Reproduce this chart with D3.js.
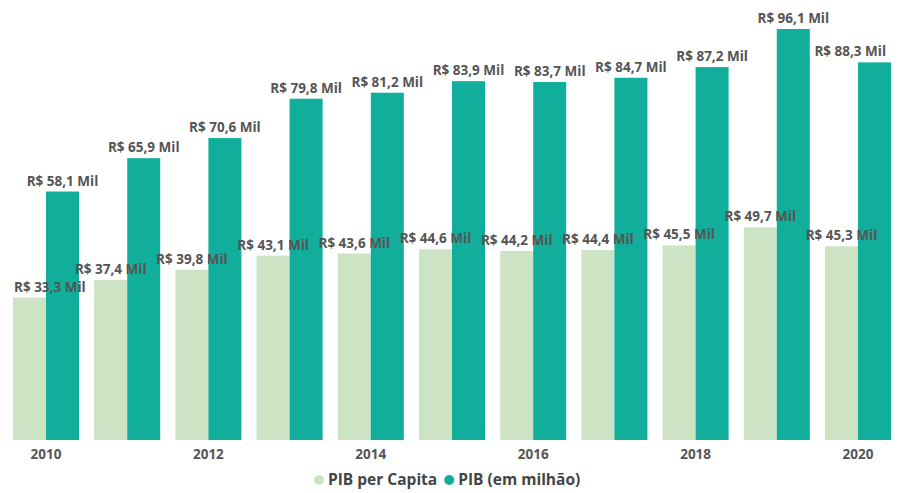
<!DOCTYPE html>
<html>
<head>
<meta charset="utf-8">
<script src="https://cdn.jsdelivr.net/npm/d3@7"></script>
<style>
  body { margin: 0; background: #fff; }
  svg text { font-family: "Open Sans", "Noto Sans", sans-serif; }
  .axis .domain { display: none; }
  .axis text { font-size: 13.5px; font-weight: 700; fill: #555; }
</style>
</head>
<body>
<div id="chart"></div>
<script>
// chart data
const years = ['2010','2011','2012','2013','2014','2015','2016','2017','2018','2019','2020'];
const pibPerCapita = [33.3, 37.4, 39.8, 43.1, 43.6, 44.6, 44.2, 44.4, 45.5, 49.7, 45.3];
const pibMilhao = [58.1, 65.9, 70.6, 79.8, 81.2, 83.9, 83.7, 84.7, 87.2, 96.1, 88.3];
const seriesNames = ['PIB per Capita', 'PIB (em milhão)'];
const tickYears = ['2010','2012','2014','2016','2018','2020'];

const width = 901, height = 493;
const colors = ['#cce4c3', '#12ae9c'];

const svg = d3.select('#chart').append('svg')
    .attr('width', width)
    .attr('height', height);

const xScale = d3.scaleBand()
    .domain(years)
    .range([13, 891])
    .paddingInner(0.187)
    .paddingOuter(0);

const xSub = d3.scaleBand()
    .domain([0, 1])
    .range([0, xScale.bandwidth()]);

const yScale = d3.scaleLinear()
    .domain([0, 96.1])
    .range([440, 29]);

const rows = years.map((y, i) => ({year: y, values: [pibPerCapita[i], pibMilhao[i]]}));

const groups = svg.selectAll('.grp')
    .data(rows)
    .join('g')
    .attr('class', 'grp')
    .attr('transform', d => `translate(${xScale(d.year)},0)`);

// bars first, labels after so they sit on top
groups.selectAll('rect')
    .data(d => d.values.map((v, k) => ({k, v})))
    .join('rect')
    .attr('x', d => xSub(d.k))
    .attr('width', xSub.bandwidth())
    .attr('y', d => yScale(d.v))
    .attr('height', d => yScale(0) - yScale(d.v))
    .attr('fill', d => colors[d.k]);

const fmt = v => 'R$ ' + v.toFixed(1).replace('.', ',') + ' Mil';

const labelLayer = svg.append('g');
rows.forEach(r => {
  r.values.forEach((v, k) => {
    const cx = xScale(r.year) + xSub(k) + xSub.bandwidth() / 2;
    const t = labelLayer.append('text')
        .attr('x', cx)
        .attr('y', yScale(v) - 6)
        .attr('text-anchor', 'middle')
        .attr('font-size', 13.5)
        .attr('font-weight', 700)
        .attr('fill', '#555')
        .text(fmt(v));
    const w = t.node().getComputedTextLength();
    // keep labels inside the plot like the original does
    if (cx - w / 2 < 14) t.attr('x', 14 + w / 2);
    if (cx + w / 2 > 886) t.attr('x', 886 - w / 2);
  });
});

const xAxis = d3.axisBottom(xScale)
    .tickValues(tickYears)
    .tickSize(0)
    .tickPadding(9);

svg.append('g')
    .attr('class', 'axis')
    .attr('transform', 'translate(0,440)')
    .call(xAxis);

// legend
const legend = svg.append('g').attr('transform', 'translate(0,480)');
let lx = 319;
seriesNames.forEach((name, i) => {
  legend.append('circle')
      .attr('cx', lx)
      .attr('cy', 0)
      .attr('r', 5)
      .attr('fill', colors[i]);
  const t = legend.append('text')
      .attr('x', lx + 9)
      .attr('y', 0)
      .attr('dy', '0.35em')
      .attr('font-size', 15.5)
      .attr('font-weight', 700)
      .attr('fill', '#444')
      .text(name);
  lx += 9 + t.node().getComputedTextLength() + 12;
});
</script>
</body>
</html>
